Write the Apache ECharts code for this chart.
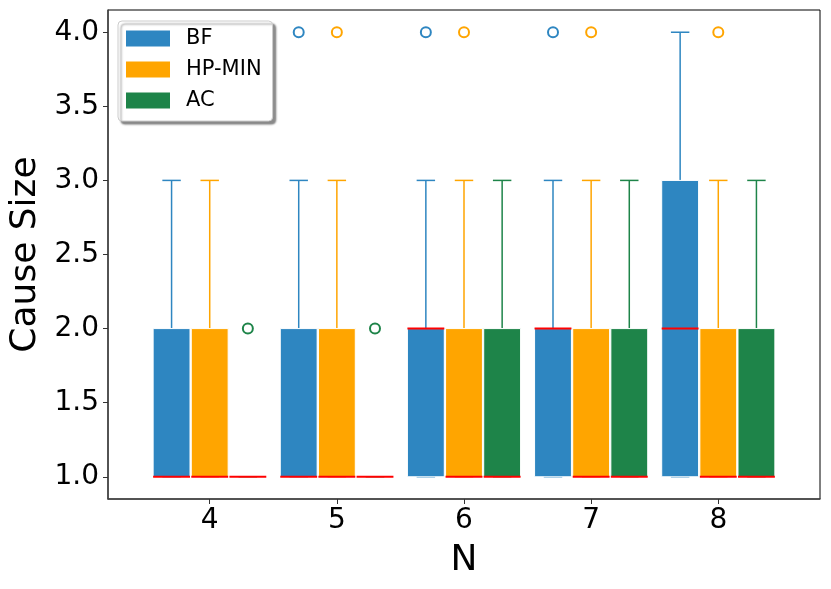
<!DOCTYPE html>
<html>
<head>
<meta charset="utf-8">
<script src="https://cdn.jsdelivr.net/npm/echarts@6/dist/echarts.min.js"></script>
<style>html,body{margin:0;padding:0;background:#fff}#c{width:831px;height:589px}</style>
</head>
<body>
<div id="c"></div>
<script>
// ---- data ----
var nValues = [4, 5, 6, 7, 8];
var seriesNames = ['BF', 'HP-MIN', 'AC'];
var seriesColors = ['#2E86C1', '#FFA500', '#1E8449'];
var seriesOffsets = [-0.3, 0, 0.3];
// [low whisker, Q1, median, Q3, high whisker] per N
var bfStats = [[1,1,1,2,3],[1,1,1,2,3],[1,1,2,2,3],[1,1,2,2,3],[1,1,2,3,4]];
var hpStats = [[1,1,1,2,3],[1,1,1,2,3],[1,1,1,2,3],[1,1,1,2,3],[1,1,1,2,3]];
var acStats = [[1,1,1,1,1],[1,1,1,1,1],[1,1,1,2,3],[1,1,1,2,3],[1,1,1,2,3]];
// outliers [N, value]
var bfOutliers = [[5,4],[6,4],[7,4]];
var hpOutliers = [[5,4],[6,4],[7,4],[8,4]];
var acOutliers = [[4,2],[5,2]];
var yTicks = [1.0, 1.5, 2.0, 2.5, 3.0, 3.5, 4.0];

var allStats = [bfStats, hpStats, acStats];
var allOutliers = [bfOutliers, hpOutliers, acOutliers];
var BOX_W = 0.29;
var FONT = '"DejaVu Sans", sans-serif';

function makeRender(color) {
  return function (params, api) {
    var x = api.value(0);
    var lo = api.value(1), q1 = api.value(2), med = api.value(3), q3 = api.value(4), hi = api.value(5);
    var pL = api.coord([x - BOX_W / 2, q3]);
    var pR = api.coord([x + BOX_W / 2, q1]);
    var cL = api.coord([x - BOX_W / 4, hi]);
    var cR = api.coord([x + BOX_W / 4, hi]);
    var cLl = api.coord([x - BOX_W / 4, lo]);
    var cRl = api.coord([x + BOX_W / 4, lo]);
    var pc3 = api.coord([x, q3]);
    var pcH = api.coord([x, hi]);
    var pc1 = api.coord([x, q1]);
    var pcL = api.coord([x, lo]);
    var mL = api.coord([x - BOX_W / 2, med]);
    var mR = api.coord([x + BOX_W / 2, med]);
    var wStyle = {stroke: color, lineWidth: 1.5};
    var children = [
      {type: 'line', shape: {x1: pc3[0], y1: pc3[1], x2: pcH[0], y2: pcH[1]}, style: wStyle},
      {type: 'line', shape: {x1: cL[0], y1: cL[1], x2: cR[0], y2: cR[1]}, style: wStyle},
      {type: 'line', shape: {x1: pc1[0], y1: pc1[1], x2: pcL[0], y2: pcL[1]}, style: wStyle},
      {type: 'line', shape: {x1: cLl[0], y1: cLl[1], x2: cRl[0], y2: cRl[1]}, style: wStyle},
      {type: 'rect', shape: {x: pL[0], y: pL[1], width: pR[0] - pL[0], height: pR[1] - pL[1]},
        style: {fill: color, stroke: '#ffffff', lineWidth: 1}},
      {type: 'line', shape: {x1: mL[0], y1: mL[1], x2: mR[0], y2: mR[1]}, style: {stroke: '#ff0000', lineWidth: 2}}
    ];
    return {type: 'group', children: children};
  };
}

var series = [];
seriesNames.forEach(function (name, i) {
  var data = nValues.map(function (n, j) {
    var s = allStats[i][j];
    return [n + seriesOffsets[i], s[0], s[1], s[2], s[3], s[4]];
  });
  series.push({
    name: name, type: 'custom', renderItem: makeRender(seriesColors[i]),
    itemStyle: {color: seriesColors[i]},
    encode: {x: 0, y: [1, 2, 3, 4, 5]},
    data: data, z: 2
  });
});
seriesNames.forEach(function (name, i) {
  series.push({
    name: name + ' outliers', type: 'scatter', symbol: 'emptyCircle', symbolSize: 10,
    itemStyle: {color: seriesColors[i], borderColor: seriesColors[i], borderWidth: 2, opacity: 1},
    data: allOutliers[i].map(function (p) { return [p[0] + seriesOffsets[i], p[1]]; }),
    z: 3, silent: true
  });
});

var chart = echarts.init(document.getElementById('c'), null, {renderer: 'canvas'});
chart.setOption({
  animation: false,
  backgroundColor: '#ffffff',
  grid: {left: 108, right: 11, top: 10, bottom: 90, show: true, borderColor: '#000', borderWidth: 1,
    containLabel: false, outerBoundsMode: 'none'},
  legend: {
    data: seriesNames.map(function (n) { return {name: n, icon: 'rect'}; }),
    orient: 'vertical', left: 118, top: 21,
    itemWidth: 44, itemHeight: 16, itemGap: 10,
    padding: [7, 11, 10, 8],
    textStyle: {fontSize: 21, fontFamily: FONT, color: '#000', padding: [0, 0, 0, 11]},
    backgroundColor: '#fff', borderColor: '#ccc', borderWidth: 1, borderRadius: 4,
    shadowColor: 'rgba(0,0,0,0.45)', shadowBlur: 2, shadowOffsetX: 3, shadowOffsetY: 3
  },
  xAxis: {
    type: 'value', min: 3.2, max: 8.8,
    name: 'N', nameLocation: 'middle', nameGap: 44,
    nameTextStyle: {fontSize: 36, fontFamily: FONT, color: '#000'},
    axisLine: {show: true, lineStyle: {color: '#444', width: 1.5}},
    axisTick: {show: true, length: 5, customValues: nValues, lineStyle: {color: '#333'}},
    axisLabel: {customValues: nValues, fontSize: 28, fontFamily: FONT, color: '#000', margin: 8},
    splitLine: {show: false}
  },
  yAxis: {
    type: 'value', min: 0.85, max: 4.15,
    name: 'Cause Size', nameLocation: 'middle', nameGap: 64,
    nameTextStyle: {fontSize: 36, fontFamily: FONT, color: '#000'},
    axisLine: {show: true, lineStyle: {color: '#444', width: 1.5}},
    axisTick: {show: true, length: 5, customValues: yTicks, lineStyle: {color: '#333'}},
    axisLabel: {customValues: yTicks, fontSize: 28, fontFamily: FONT, color: '#000', margin: 9,
      formatter: function (v) { return v.toFixed(1); }},
    splitLine: {show: false}
  },
  series: series
});
</script>
</body>
</html>
